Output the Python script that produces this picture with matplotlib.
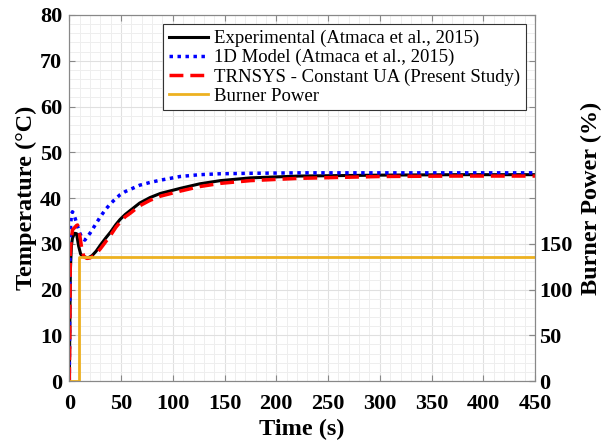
import matplotlib.pyplot as plt
from matplotlib.ticker import MultipleLocator

# Experimental (Atmaca et al., 2015)
t_exp = [0, 0.5, 1, 2, 3, 5, 7, 9, 11, 14, 18, 22, 26, 30, 35, 40, 45, 49, 54, 59, 68, 78, 88, 107, 126, 146, 175, 222, 300, 375, 450]
T_exp = [0, 12, 24, 29.5, 31.2, 32.3, 32.2, 29.5, 27.7, 27.2, 26.9, 27.4, 28.4, 29.7, 31.2, 32.6, 34.2, 35.3, 36.4, 37.3, 38.9, 40.1, 41.0, 42.1, 43.1, 43.8, 44.4, 44.8, 45.0, 45.1, 45.1]

# 1D Model (Atmaca et al., 2015)
t_1d = [0, 0.5, 1, 2, 3, 4, 6, 8, 10, 12, 15, 20, 25, 30, 35, 40, 45, 49, 54, 59, 68, 78, 88, 107, 126, 146, 175, 222, 300, 450]
T_1d = [0, 22, 33, 36.3, 37, 36.7, 35.3, 33.8, 32.4, 31.4, 30.8, 32.3, 34.1, 35.9, 37.5, 38.8, 39.9, 40.7, 41.4, 41.9, 42.8, 43.4, 43.9, 44.7, 45.1, 45.3, 45.4, 45.5, 45.5, 45.5]

# TRNSYS - Constant UA
t_trn = [0, 0.5, 1, 2, 3, 5, 7, 8, 10, 12, 14, 17, 20, 25, 30, 35, 40, 45, 49, 54, 59, 68, 78, 88, 107, 126, 146, 175, 222, 300, 375, 450]
T_trn = [0, 10, 28, 31, 33, 33.5, 34, 34.1, 32, 29, 27.2, 26.8, 26.9, 27.6, 28.9, 30.4, 31.9, 33.6, 34.7, 35.9, 36.7, 38.3, 39.5, 40.4, 41.5, 42.5, 43.2, 43.8, 44.3, 44.7, 44.8, 44.8]

# Burner power (%)
t_bp = [0, 9, 9, 450]
P_bp = [0, 0, 135, 135]

plt.rcParams['font.family'] = ['Liberation Serif', 'DejaVu Serif']

fig = plt.figure(figsize=(6.15, 4.41), dpi=100)
ax = fig.add_axes([0.1127, 0.136, 0.7573, 0.830])
ax2 = ax.twinx()

l1, = ax.plot(t_exp, T_exp, color='black', lw=2.2, label='Experimental (Atmaca et al., 2015)')
l2, = ax.plot(t_1d, T_1d, color='#0000ff', lw=2.5, ls=(0, (1, 1.3)), label='1D Model (Atmaca et al., 2015)')
l3, = ax.plot(t_trn, T_trn, color='#ff0000', lw=2.5, ls=(0, (4, 2)), label='TRNSYS - Constant UA (Present Study)')
l4, = ax2.plot(t_bp, P_bp, color='#EDB120', lw=2, label='Burner Power')

ax.set_xlim(0, 450)
ax.set_ylim(0, 80)
ax2.set_ylim(0, 400)
ax.xaxis.set_major_locator(MultipleLocator(50))
ax.xaxis.set_minor_locator(MultipleLocator(10))
ax.yaxis.set_major_locator(MultipleLocator(10))
ax.yaxis.set_minor_locator(MultipleLocator(2))
ax2.set_yticks([0, 50, 100, 150])

ax.grid(which='major', color='#e0e0e0', lw=0.8)
ax.grid(which='minor', color='#eeeeee', lw=0.7)
ax.set_axisbelow(True)

for a in (ax, ax2):
    for s in a.spines.values():
        s.set_color('#888888')
ax.tick_params(which='major', direction='in', length=4, color='#888888', top=True, right=True,
               labelsize=16)
ax.tick_params(axis='x', pad=9)
ax.tick_params(axis='y', pad=5)
ax.tick_params(which='minor', length=0)
ax2.tick_params(direction='in', length=4, color='#888888', labelsize=16, pad=3)
for lab in ax.get_xticklabels() + ax.get_yticklabels() + ax2.get_yticklabels():
    lab.set_fontweight('bold')

ax.set_xlabel('Time (s)', fontsize=17.5, fontweight='bold', labelpad=4)
ax.set_ylabel('Temperature (°C)', fontsize=17.5, fontweight='bold', labelpad=2)
ax2.set_ylabel('Burner Power (%)', fontsize=17.5, fontweight='bold', labelpad=6)

leg = ax.legend(handles=[l1, l2, l3, l4], loc='upper right', fontsize=13.5, fancybox=False,
                framealpha=1, edgecolor='#333333', handlelength=2.1, handletextpad=0.3,
                borderaxespad=0.5, borderpad=0.3, labelspacing=0.1)
leg.get_frame().set_linewidth(0.8)

fig.savefig('out.png', dpi=100)
